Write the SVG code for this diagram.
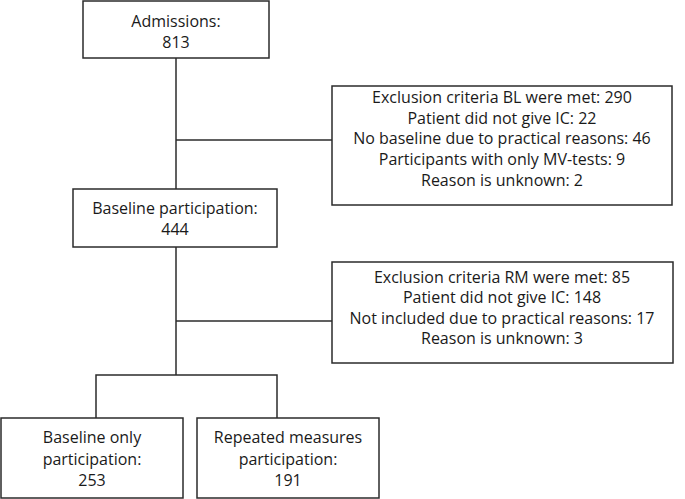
<svg xmlns="http://www.w3.org/2000/svg" width="685" height="499" viewBox="0 0 685 499">
<style>
.box{fill:#fff;stroke:#2b2b2b;stroke-width:1.5}
.ln{fill:none;stroke:#2b2b2b;stroke-width:1.5}
text{font-family:"Open Sans","Liberation Sans",sans-serif;font-size:16px;fill:#1a1a1a;text-anchor:middle}
</style>
<rect width="685" height="499" fill="#fff"/>
<g id="connectors">
<path class="ln" d="M176,58 V189"/>
<path class="ln" d="M176,140 H332"/>
<path class="ln" d="M176,247 V375"/>
<path class="ln" d="M176,321 H332"/>
<path class="ln" d="M96,418 V375 H277 V418"/>
</g>
<g id="admissions">
<rect class="box" x="83" y="1" width="186" height="57"/>
<text x="176" y="27">Admissions:</text>
<text x="176" y="48">813</text>
</g>
<g id="exclusion1">
<rect class="box" x="332" y="86" width="340" height="119"/>
<text x="502" y="103">Exclusion criteria BL were met: 290</text>
<text x="502" y="124">Patient did not give IC: 22</text>
<text x="502" y="144">No baseline due to practical reasons: 46</text>
<text x="502" y="165">Participants with only MV-tests: 9</text>
<text x="502" y="186">Reason is unknown: 2</text>
</g>
<g id="baseline">
<rect class="box" x="73" y="189" width="204" height="58"/>
<text x="175" y="214">Baseline participation:</text>
<text x="175" y="235">444</text>
</g>
<g id="exclusion2">
<rect class="box" x="332" y="262" width="341" height="101"/>
<text x="502" y="283">Exclusion criteria RM were met: 85</text>
<text x="502" y="303">Patient did not give IC: 148</text>
<text x="502" y="324">Not included due to practical reasons: 17</text>
<text x="502" y="344">Reason is unknown: 3</text>
</g>
<g id="baselineOnly">
<rect class="box" x="1" y="418" width="182" height="80"/>
<text x="92" y="443">Baseline only</text>
<text x="92" y="465">participation:</text>
<text x="92" y="486">253</text>
</g>
<g id="repeated">
<rect class="box" x="197" y="418" width="182" height="80"/>
<text x="288" y="443">Repeated measures</text>
<text x="288" y="465">participation:</text>
<text x="288" y="486">191</text>
</g>
</svg>
